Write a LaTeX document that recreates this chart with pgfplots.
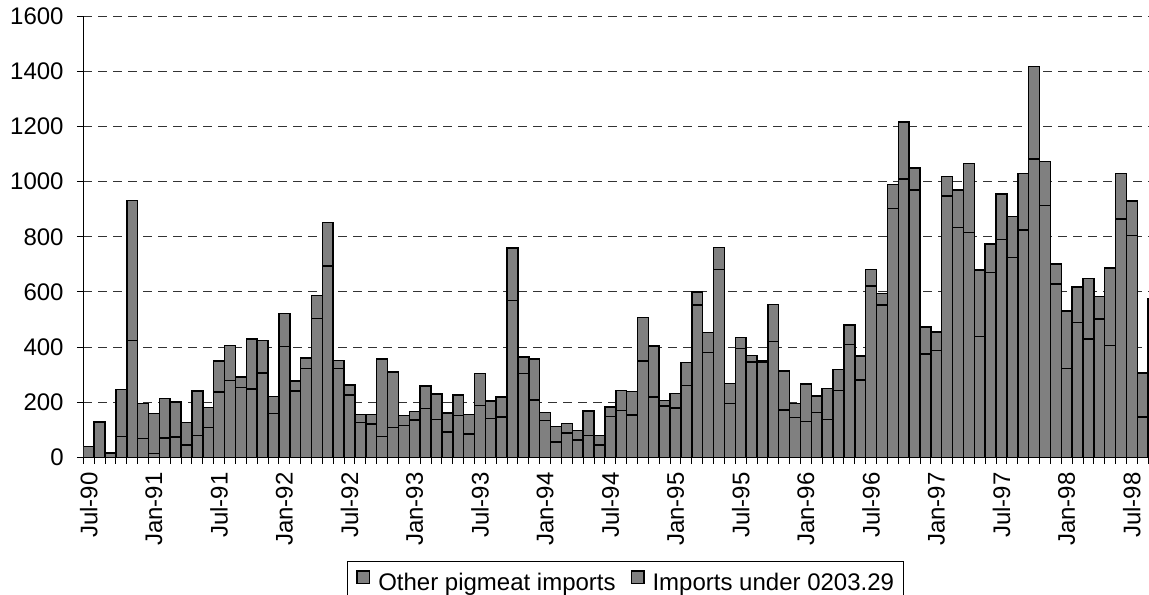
\documentclass[border=0pt]{standalone}
\usepackage{fontspec}
\setmainfont{Liberation Sans}
\usepackage{pgfplots}
\usepackage{pgfplotstable}
\pgfplotsset{compat=1.18}

\newcommand\chartfont{\fontsize{24bp}{29bp}\selectfont}

% Monthly pigmeat imports, Jul-90 onwards (idx 0 = Jul-90)
% other = other pigmeat imports, under = imports under 0203.29
\pgfplotstableread{
idx other under
0 40 0
1 128 0
2 15 0
3 76 170
4 424 507
5 68 127
6 13 146
7 70 143
8 73 127
9 45 81
10 79 162
11 108 72
12 237 113
13 278 127
14 253 38
15 248 181
16 305 119
17 159 62
18 402 119
19 240 36
20 322 39
21 504 83
22 694 157
23 322 30
24 226 37
25 127 28
26 120 35
27 75 282
28 108 201
29 116 36
30 135 32
31 177 82
32 138 91
33 92 68
34 151 75
35 84 71
36 188 116
37 140 64
38 146 73
39 569 191
40 304 60
41 207 149
42 133 29
43 56 56
44 88 34
45 63 35
46 79 89
47 45 34
48 148 35
49 169 73
50 154 84
51 349 158
52 218 186
53 186 20
54 179 53
55 260 84
56 553 46
57 381 72
58 682 79
59 196 72
60 394 40
61 345 24
62 346 5
63 420 135
64 172 142
65 145 51
66 129 137
67 163 59
68 138 111
69 242 77
70 410 70
71 281 87
72 622 60
73 553 42
74 903 87
75 1010 206
76 970 80
77 374 98
78 387 68
79 948 70
80 833 137
81 816 250
82 438 242
83 670 103
84 791 164
85 724 149
86 825 205
87 1082 335
88 913 160
89 629 72
90 322 208
91 489 128
92 429 220
93 502 81
94 405 281
95 865 165
96 804 125
97 147 158
98 574 0
}\imports

\definecolor{bargray}{RGB}{128,128,128}

\pgfplotsset{
  squarelegend/.style={
    legend image code/.code={
      \draw[fill=bargray, draw=black, line width=1.2bp]
        (0bp,-0.8bp) rectangle (12.7bp,11.9bp);
    }
  }
}

\begin{document}
\begin{tikzpicture}[font=\chartfont]
\useasboundingbox (0bp,0bp) rectangle (1149bp,595bp);
\begin{axis}[
  at={(83.3bp,137.7bp)}, anchor=south west,
  scale only axis,
  width=1065.7bp, height=441bp,
  xmin=-0.5, xmax=97.57,
  ymin=0, ymax=1600,
  enlargelimits=false,
  clip=true,
  axis x line*=bottom,
  axis y line*=left,
  axis line style={black, line width=1bp},
  tick align=outside,
  tick style={black, line width=1bp},
  major tick length=6.5bp,
  ytick={0,200,...,1600},
  ymajorgrids,
  grid style={black!80, line width=0.9bp, dash pattern=on 9bp off 6bp},
  xtick={-0.5,0.5,...,97.5},
  xticklabels={},
  extra x ticks={0,6,...,96},
  extra x tick labels={Jul-90,Jan-91,Jul-91,Jan-92,Jul-92,Jan-93,Jul-93,Jan-94,Jul-94,Jan-95,Jul-95,Jan-96,Jul-96,Jan-97,Jul-97,Jan-98,Jul-98},
  extra x tick style={major tick length=0pt, grid=none,
    xticklabel style={rotate=90, anchor=east, inner sep=0pt, xshift=-15bp}},
  /pgf/number format/assume math mode=true,
  /pgf/number format/1000 sep={},
  yticklabel style={anchor=east, inner sep=0pt, xshift=-13bp},
  ybar stacked,
  bar width=1,
  legend columns=2,
  legend style={
    at={(0.2474,-0.2351)}, anchor=north west,
    draw=black, line width=0.8bp, fill=white,
    inner xsep=9bp, inner ysep=9bp,
    cells={anchor=west},
    nodes={inner sep=0pt, font=\chartfont},
    /tikz/every odd column/.append style={column sep=8bp},
    /tikz/every even column/.append style={column sep=15bp},
  },
]
\addplot[fill=bargray, draw=black, line width=1.5bp, squarelegend]
  table[x=idx, y=other] {\imports};
\addlegendentry{Other pigmeat imports}
\addplot[fill=bargray, draw=black, line width=1.5bp, squarelegend]
  table[x=idx, y=under] {\imports};
\addlegendentry{Imports under 0203.29}
\end{axis}
\end{tikzpicture}
\end{document}
